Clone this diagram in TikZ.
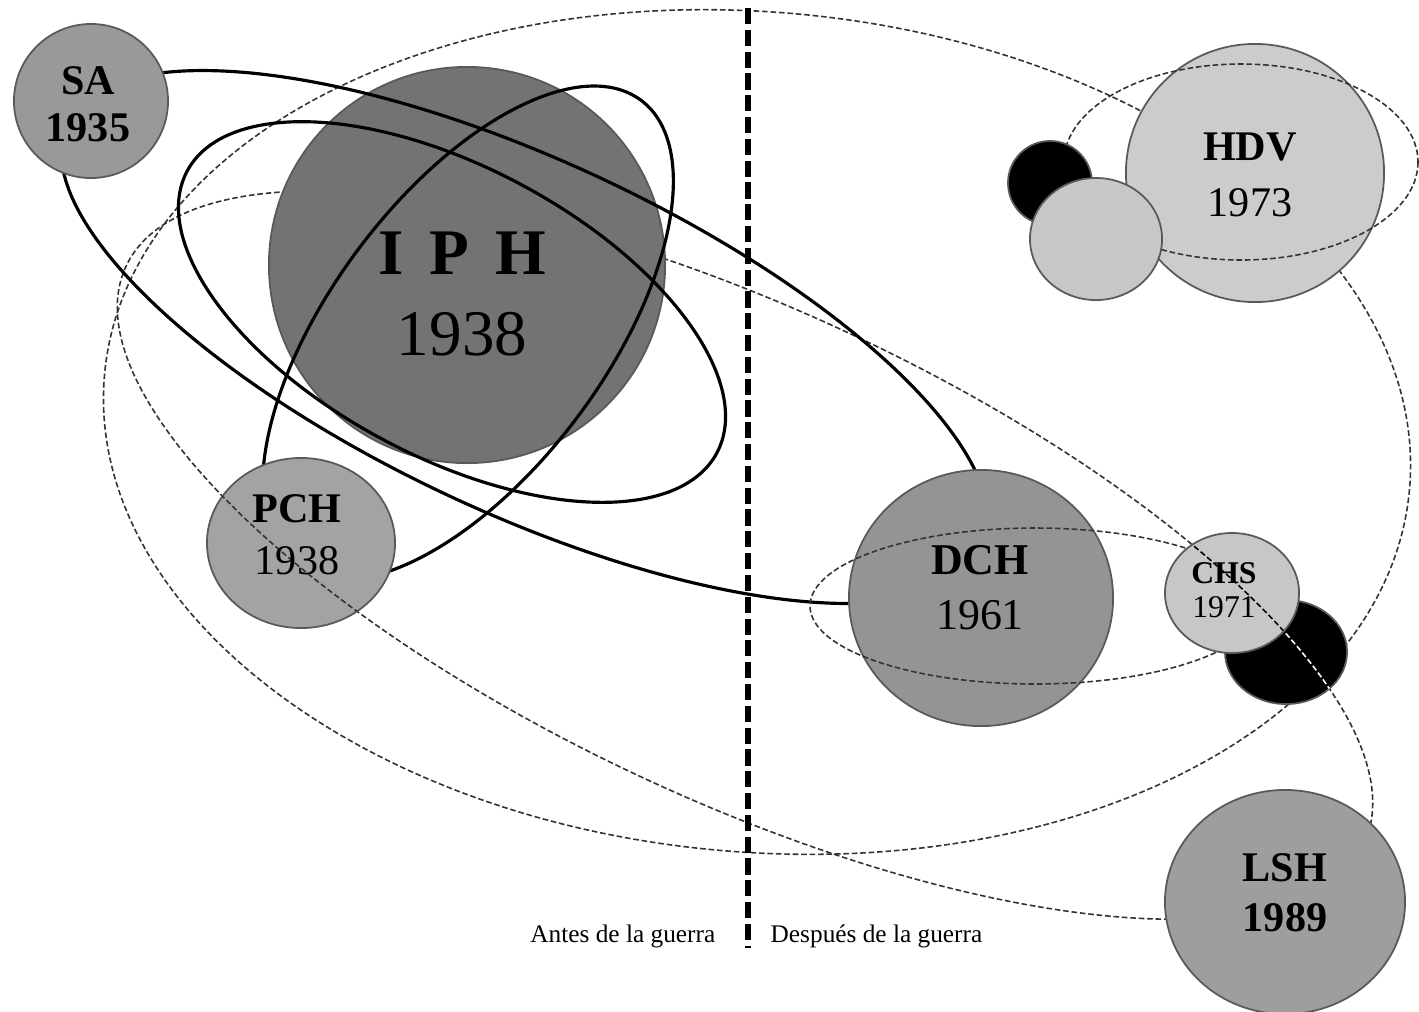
\documentclass[tikz,border=0pt]{standalone}
\usepackage{fontspec}
\setmainfont{Liberation Serif}
\usetikzlibrary{shapes.geometric}
\tikzset{planet/.style={draw=black!65, line width=0.5pt, ellipse, inner sep=0pt, outer sep=0pt}}
\tikzset{orbit/.style={line width=0.9pt}}
\tikzset{orbitd/.style={line width=0.45pt, color=black!80, dash pattern=on 1.6pt off 0.8pt}}
\tikzset{warline/.style={line width=1.5pt, dash pattern=on 4.6pt off 1.6pt}}
\tikzset{lbl/.style={align=center, inner sep=0pt}}

\begin{document}
\begin{tikzpicture}[x=0.01cm, y=-0.01cm]
\useasboundingbox (0,0) rectangle (1419,1011);

\draw [orbitd, rotate around={-5:(757,432)}] (757,432) ellipse [x radius=655, y radius=420];
\draw [orbitd, rotate around={-25:(745,555)}] (745,555) ellipse [x radius=683, y radius=245];

\node [planet, fill=black!55, minimum width=3.96cm, minimum height=3.96cm] (IPH) at (467,265) {};

\draw [orbit, rotate around={-25:(525,337)}] (525,337) ellipse [x radius=505, y radius=176];
\draw [orbit, rotate around={-28:(452,312)}] (452,312) ellipse [x radius=300, y radius=145];
\draw [orbit, rotate around={53.4:(468,333)}] (468,333) ellipse [x radius=290, y radius=138];

\node [planet, fill=black!40, minimum width=1.54cm, minimum height=1.54cm] (SA) at (91,101) {};
\node [planet, fill=black!36, minimum width=1.88cm, minimum height=1.70cm] (PCH) at (301,543) {};
\begin{scope}
  \clip (PCH.center) ellipse [x radius=94, y radius=85];
  \draw [orbitd, rotate around={-25:(745,555)}] (745,555) ellipse [x radius=683, y radius=245];
\end{scope}

\node [planet, fill=black!42, minimum width=2.64cm, minimum height=2.56cm] (DCH) at (981,598) {};
\draw [orbitd] (1035,606) ellipse [x radius=225, y radius=78];
\node [planet, fill=black, minimum width=1.22cm, minimum height=1.04cm] (DKb) at (1286,652) {};
\node [planet, fill=black!22, minimum width=1.34cm, minimum height=1.20cm] (CHS) at (1232,593) {};
\begin{scope}
  \clip (DKb.center) ellipse [x radius=61, y radius=52];
  \draw [orbitd, white, rotate around={-25:(745,555)}] (745,555) ellipse [x radius=683, y radius=245];
\end{scope}
\begin{scope}
  \clip (CHS.center) ellipse [x radius=67, y radius=60];
  \draw [orbitd, black, rotate around={-25:(745,555)}] (745,555) ellipse [x radius=683, y radius=245];
\end{scope}

\node [planet, fill=black!38, minimum width=2.40cm, minimum height=2.24cm] (LSH) at (1285,902) {};

\node [planet, fill=black!20, minimum size=2.58cm] (HDV) at (1255,173) {};
\draw [orbitd] (1241,162) ellipse [x radius=177, y radius=98];
\node [planet, fill=black, minimum size=0.84cm] (DKa) at (1050,183) {};
\node [planet, fill=black!22, minimum width=1.32cm, minimum height=1.22cm] (LTa) at (1096,239) {};

\coordinate (wartop) at (748,8);
\coordinate (warbot) at (748,948);
\draw [warline] (wartop) -- (warbot);

\node [lbl, font=\fontsize{12}{13.4}\selectfont\bfseries] (SAt) at (88,104) {SA\\1935};
\node [lbl, font=\fontsize{18.5}{22.8}\selectfont] (IPHt) at (462,294) {\textbf{I\hskip0.4em P\hskip0.4em H}\\1938};
\node [lbl, font=\fontsize{12}{14.8}\selectfont] (PCHt) at (297,535) {\textbf{PCH}\\1938};
\node [lbl, font=\fontsize{12.5}{15.6}\selectfont] (DCHt) at (980,588) {\textbf{DCH}\\1961};
\node [lbl, font=\fontsize{9}{9.6}\selectfont] (CHSt) at (1224,590) {\textbf{CHS}\\1971};
\node [lbl, font=\fontsize{12}{16}\selectfont] (HDVt) at (1250,175) {\textbf{HDV}\\1973};
\node [lbl, font=\fontsize{12}{14.2}\selectfont\bfseries] (LSHt) at (1285,893) {LSH\\1989};

\node [anchor=base east, inner sep=0pt, font=\fontsize{7.2}{8}\selectfont] (antes) at (716,942) {Antes de la guerra};
\node [anchor=base west, inner sep=0pt, font=\fontsize{7.2}{8}\selectfont] (despues) at (770,942) {Después de la guerra};
\end{tikzpicture}
\end{document}
